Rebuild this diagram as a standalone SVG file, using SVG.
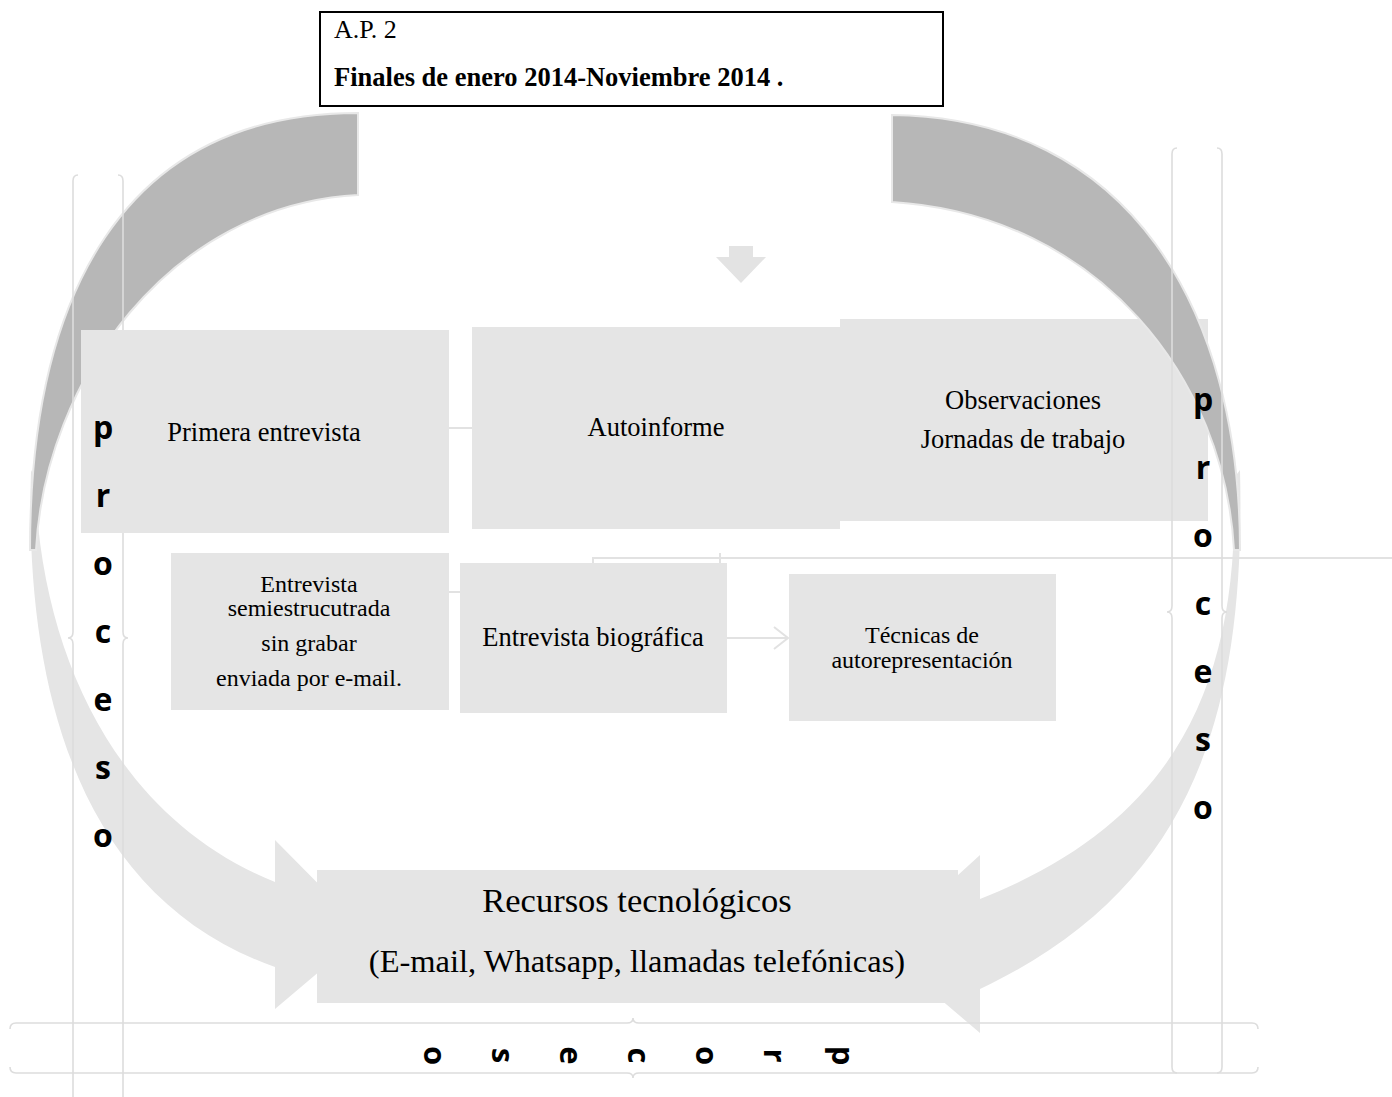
<svg xmlns="http://www.w3.org/2000/svg" width="1392" height="1097" viewBox="0 0 1392 1097">
  <style>
    .box { fill: #e5e5e5; }
    .dark { fill: #b7b7b7; stroke: #e8e8e8; stroke-width: 2; }
    .light { fill: #e5e5e5; }
    .brace { fill: none; stroke: #dddddd; stroke-width: 1.6; }
    .link { fill: none; stroke: #e2e2e2; stroke-width: 2; }
    .serif { font-family: "Liberation Serif", "Times New Roman", serif; fill: #000; }
    .lbl { font-family: "Liberation Serif", "Times New Roman", serif; fill: #000; text-anchor: middle; }
    .big { font-size: 26.5px; }
    .mid { font-size: 24px; }
    .vert { font-family: "Open Sans", "Noto Sans", sans-serif; font-weight: bold; font-size: 32px; fill: #000; text-anchor: middle; }
    .flat { font-size: 31px; }
  </style>
  <defs>
    <marker id="chev" markerWidth="16" markerHeight="24" refX="15" refY="12" orient="auto" markerUnits="userSpaceOnUse">
      <path d="M1,1 L15,12 L1,23" fill="none" stroke="#e2e2e2" stroke-width="2"/>
    </marker>
  </defs>

  <!-- title box -->
  <g id="title">
    <rect x="320" y="12" width="623" height="94" fill="#fff" stroke="#000" stroke-width="2"/>
    <text class="serif" x="334" y="38" font-size="26">A.P. 2</text>
    <text class="serif" x="334" y="86" font-size="26.5" font-weight="bold">Finales de enero 2014-Noviembre 2014 .</text>
  </g>

  <!-- circular arrows, left side -->
  <g id="arc-left-lower">
    <path class="light" d="M31,470 C24,700 85,900 275,967 L275,1009 L366,932 L275,840 L275,882 C120,820 40,660 35,478 Z"/>
  </g>
  <g id="arc-left-upper">
    <path class="dark" d="M358,113 C120,113 30,300 30,550 L36,550 C45,380 170,205 358,195 Z"/>
  </g>

  <!-- circular arrow, right side (lower part) -->
  <g id="arc-right-lower">
    <path class="light" d="M1240,470 C1246,720 1190,890 980,989 L980,1033 L879,947 L980,855 L980,899 C1180,820 1240,680 1234,478 Z"/>
  </g>

  <!-- left vertical braces -->
  <g id="brace-left">
    <path class="brace" d="M78,175 Q73,175 73,181 L73,632 Q73,638 68,638 Q73,638 73,644 L73,1100"/>
    <path class="brace" d="M118,175 Q123,175 123,181 L123,632 Q123,638 128,638 Q123,638 123,644 L123,1100"/>
  </g>

  <!-- connectors -->
  <g id="connectors">
    <line class="link" x1="449" y1="428" x2="472" y2="428"/>
    <line class="link" x1="449" y1="592" x2="460" y2="592"/>
    <line class="link" x1="727" y1="638" x2="788" y2="638" marker-end="url(#chev)"/>
    <path class="link" d="M593,564 L593,558 L1392,558 M720,553 L720,564"/>
  </g>

  <!-- process boxes -->
  <g id="primera">
    <rect class="box" x="81" y="330" width="368" height="203"/>
    <text class="lbl big" x="264" y="441">Primera entrevista</text>
  </g>
  <g id="autoinforme">
    <rect class="box" x="472" y="327" width="368" height="202"/>
    <text class="lbl big" x="656" y="436">Autoinforme</text>
  </g>
  <g id="observaciones">
    <rect class="box" x="840" y="319" width="368" height="202"/>
    <text class="lbl big" x="1023" y="409">Observaciones</text>
    <text class="lbl big" x="1023" y="448">Jornadas de trabajo</text>
  </g>
  <g id="semiestructurada">
    <rect class="box" x="171" y="553" width="278" height="157"/>
    <text class="lbl mid" x="309" y="592">Entrevista</text>
    <text class="lbl mid" x="309" y="616">semiestrucutrada</text>
    <text class="lbl mid" x="309" y="651">sin grabar</text>
    <text class="lbl mid" x="309" y="686">enviada por e-mail.</text>
  </g>
  <g id="biografica">
    <rect class="box" x="460" y="563" width="267" height="150"/>
    <text class="lbl big" x="593" y="646">Entrevista biográfica</text>
  </g>
  <g id="tecnicas">
    <rect class="box" x="789" y="574" width="267" height="147"/>
    <text class="lbl mid" x="922" y="643">Técnicas de</text>
    <text class="lbl mid" x="922" y="668">autorepresentación</text>
  </g>

  <!-- circular arrow, right side (upper part) -->
  <g id="arc-right-upper">
    <path class="dark" d="M892,115 C1130,118 1240,310 1240,550 L1234,550 C1225,380 1100,215 892,202 Z"/>
  </g>

  <!-- small down arrow -->
  <g id="down-arrow">
    <path fill="#e3e3e3" d="M729,246 L753,246 L753,257 L766,257 L741,283 L716,257 L729,257 Z"/>
  </g>

  <!-- right vertical braces -->
  <g id="brace-right">
    <path class="brace" d="M1177,148 Q1172,148 1172,154 L1172,606 Q1172,612 1167,612 Q1172,612 1172,618 L1172,1067 Q1172,1073 1177,1073"/>
    <path class="brace" d="M1217,148 Q1222,148 1222,154 L1222,606 Q1222,612 1227,612 Q1222,612 1222,618 L1222,1067 Q1222,1073 1217,1073"/>
  </g>

  <!-- recursos -->
  <g id="recursos">
    <rect class="box" x="317" y="870" width="641" height="133"/>
    <text class="lbl" x="637" y="912" font-size="34.5">Recursos tecnológicos</text>
    <text class="lbl" x="637" y="972" font-size="32.5">(E-mail, Whatsapp, llamadas telefónicas)</text>
  </g>

  <!-- bottom horizontal braces -->
  <g id="brace-bottom">
    <path class="brace" d="M10,1029 Q10,1023 16,1023 L627,1023 Q633,1023 633,1018 Q633,1023 639,1023 L1252,1023 Q1258,1023 1258,1029"/>
    <path class="brace" d="M10,1067 Q10,1073 16,1073 L627,1073 Q633,1073 633,1078 Q633,1073 639,1073 L1252,1073 Q1258,1073 1258,1067"/>
  </g>

  <!-- "proceso" labels -->
  <g id="proceso-left">
    <text class="vert" x="103" y="439">p</text>
    <text class="vert" x="103" y="507">r</text>
    <text class="vert" x="103" y="575">o</text>
    <text class="vert" x="103" y="643">c</text>
    <text class="vert" x="103" y="711">e</text>
    <text class="vert" x="103" y="779">s</text>
    <text class="vert" x="103" y="847">o</text>
  </g>
  <g id="proceso-right">
    <text class="vert" x="1203" y="411">p</text>
    <text class="vert" x="1203" y="479">r</text>
    <text class="vert" x="1203" y="547">o</text>
    <text class="vert" x="1203" y="615">c</text>
    <text class="vert" x="1203" y="683">e</text>
    <text class="vert" x="1203" y="751">s</text>
    <text class="vert" x="1203" y="819">o</text>
  </g>
  <!-- the same stacked word, turned a quarter clockwise -->
  <g id="proceso-bottom" transform="translate(832,1055.5) rotate(90)">
    <text class="vert flat" x="0" y="0">p</text>
    <text class="vert flat" x="0" y="68">r</text>
    <text class="vert flat" x="0" y="136">o</text>
    <text class="vert flat" x="0" y="204">c</text>
    <text class="vert flat" x="0" y="272">e</text>
    <text class="vert flat" x="0" y="340">s</text>
    <text class="vert flat" x="0" y="408">o</text>
  </g>
</svg>
